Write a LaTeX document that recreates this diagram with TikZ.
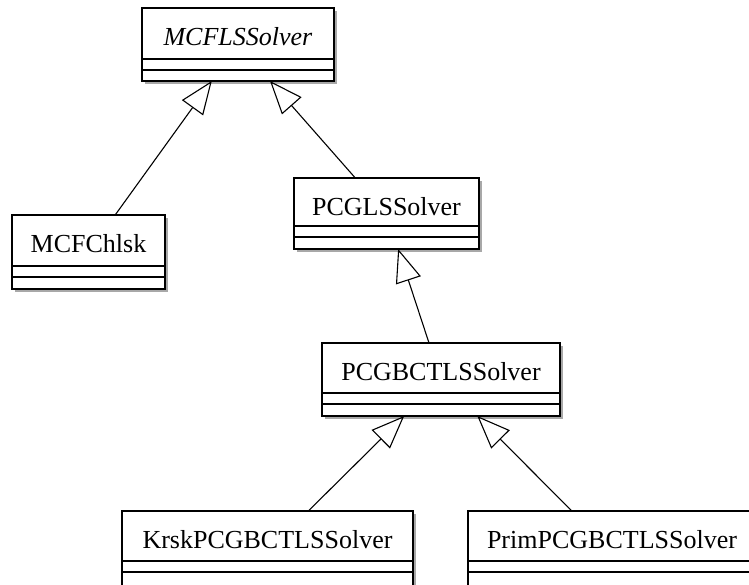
\documentclass[tikz,border=0pt]{standalone}
\usepackage{fontspec}
\setmainfont{Liberation Serif}
\usetikzlibrary{arrows.meta,shadows,calc}

\definecolor{shadowgray}{HTML}{A8A8A8}

\tikzset{
  clsbox/.style={draw=black, line width=1.2pt, fill=white, inner sep=0pt, outer sep=0pt,
    drop shadow={shadow xshift=3pt, shadow yshift=-3pt, fill=shadowgray, opacity=1}},
  clsname/.style={font=\fontsize{26}{30}\selectfont, inner sep=0pt},
  clsline/.style={line width=1.2pt},
  inherit/.style={line width=1.1pt, -{Triangle[open, length=33pt, width=26pt, line width=1.1pt]}}
}

% #1 node name, #2 left, #3 top, #4 width, #5 height of the name compartment,
% #6 height of the operations compartment, #7 class name
\newcommand\umlcls[7]{%
  \node[clsbox, minimum width=#4pt, minimum height=#5pt+11pt+#6pt, anchor=north west] (#1) at (#2,#3) {};
  \node[clsname, anchor=base] (#1-name) at ($(#1.north)+(0,37)$) {#7};
  \draw[clsline] ($(#1.north west)+(0,#5)$) -- ($(#1.north east)+(0,#5)$);
  \draw[clsline] ($(#1.north west)+(0,#5+11)$) -- ($(#1.north east)+(0,#5+11)$);
}

\begin{document}
\begin{tikzpicture}[x=1pt, y=-1pt]
  \useasboundingbox (0,0) rectangle (749,584);
  \clip (0,0) rectangle (749,584);

  \umlcls{mcfls}{142}{8}{192}{51}{11}{\textit{MCFLSSolver}}
  \umlcls{chlsk}{12}{215}{153}{51}{12}{MCFChlsk}
  \umlcls{pcgls}{294}{178}{185}{48}{12}{PCGLSSolver}
  \umlcls{pcgbct}{322}{343}{238}{50}{12}{PCGBCTLSSolver}
  \umlcls{krsk}{122}{511}{291}{50}{20}{KrskPCGBCTLSSolver}
  \umlcls{prim}{468}{511}{288}{50}{20}{PrimPCGBCTLSSolver}

  % generalisations
  \draw[inherit] (chlsk) -- (mcfls);
  \draw[inherit] (pcgls) -- (mcfls);
  \draw[inherit] (pcgbct) -- (pcgls);
  \draw[inherit] (krsk) -- (pcgbct);
  \draw[inherit] (prim) -- (pcgbct);
\end{tikzpicture}
\end{document}
